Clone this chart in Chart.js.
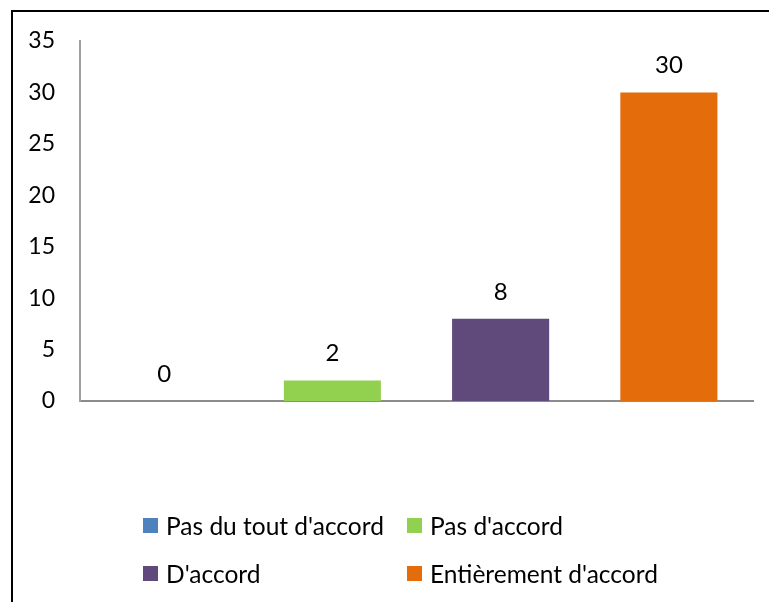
<!DOCTYPE html>
<html>
<head>
<meta charset="utf-8">
<script src="https://cdn.jsdelivr.net/npm/chart.js@4"></script>
<style>
    body { margin: 0; background: #fff; }
    #wrap { position: relative; width: 769px; height: 602px; overflow: hidden; font-family: Lato, sans-serif; }
    #frame { position: absolute; left: 11px; top: 10px; width: 900px; height: 700px;
             border-left: 2px solid #000; border-top: 2px solid #000; }
    #chart { position: absolute; left: 0; top: 0; }
    #legend { position: absolute; left: 143px; top: 510px; display: grid;
              grid-template-columns: 264px auto; grid-auto-rows: 48px; }
    .item { display: flex; align-items: center; height: 31px; font-size: 24.5px; color: #000; white-space: nowrap; }
    .box { width: 15px; height: 15px; margin-right: 8px; flex: none; }
</style>
</head>
<body>
<div id="wrap">
    <div id="frame"></div>
    <canvas id="chart" width="769" height="602"></canvas>
    <div id="legend"></div>
</div>
<script>
    var categories = ["Pas du tout d'accord", "Pas d'accord", "D'accord", "Entièrement d'accord"]
    var counts = [0, 2, 8, 30]
    var colors = ['#4F81BD', '#92D050', '#604A7B', '#E46C0A']
    var yTicks = [0, 5, 10, 15, 20, 25, 30, 35]

    // value written above each bar
    var valueLabels = {
        id: 'valueLabels',
        afterDatasetsDraw: function (chart) {
            var ctx = chart.ctx
            var meta = chart.getDatasetMeta(0)
            ctx.save()
            ctx.font = '24px Lato'
            ctx.fillStyle = '#000'
            ctx.textAlign = 'center'
            ctx.textBaseline = 'alphabetic'
            meta.data.forEach(function (bar, i) {
                ctx.fillText(String(counts[i]), bar.x, bar.y - 19)
            })
            ctx.restore()
        }
    }

    new Chart(document.getElementById('chart'), {
        type: 'bar',
        data: {
            labels: categories,
            datasets: [{
                data: counts,
                backgroundColor: colors,
                borderWidth: 0,
                categoryPercentage: 1,
                barPercentage: 0.577
            }]
        },
        options: {
            responsive: false,
            animation: false,
            layout: { padding: { top: 41, right: 16, bottom: 201, left: 0 } },
            plugins: {
                legend: { display: false },
                tooltip: { enabled: false }
            },
            scales: {
                x: {
                    grid: { display: false, drawTicks: false },
                    border: { color: '#8c8c8c', width: 2 },
                    ticks: { display: false }
                },
                y: {
                    min: 0,
                    max: 35,
                    afterFit: function (axis) { axis.width = 80 },
                    afterBuildTicks: function (axis) {
                        axis.ticks = yTicks.map(function (v) { return { value: v } })
                    },
                    grid: { display: false, drawTicks: false },
                    border: { color: '#a0a0a0', width: 2 },
                    ticks: { padding: 25, color: '#000', font: { family: 'Lato', size: 23 } }
                }
            }
        },
        plugins: [valueLabels]
    })

    // legend in two columns below the plot
    var legendHtml = ''
    categories.forEach(function (name, i) {
        legendHtml += '<div class="item"><span class="box" style="background:' + colors[i] + '"></span>' + name + '</div>'
    })
    document.getElementById('legend').innerHTML = legendHtml
</script>
</body>
</html>
